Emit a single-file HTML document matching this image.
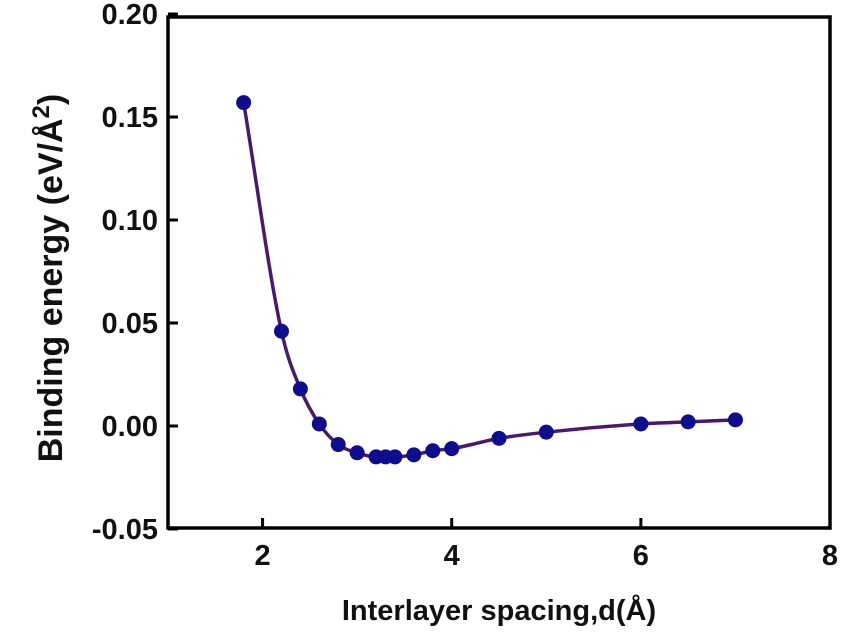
<!DOCTYPE html>
<html><head><meta charset="utf-8"><style>
body{margin:0;background:#fff;}
svg text{font-family:"Liberation Sans",Arial,sans-serif;font-weight:bold;fill:#111;}
</style></head><body>
<svg id="c" width="848" height="638" xmlns="http://www.w3.org/2000/svg"></svg>
<script>
const xValues=[1.8,2.2,2.4,2.6,2.8,3.0,3.2,3.3,3.4,3.6,3.8,4.0,4.5,5.0,6.0,6.5,7.0];
const yValues=[0.157,0.046,0.018,0.001,-0.009,-0.013,-0.015,-0.015,-0.015,-0.014,-0.012,-0.011,-0.006,-0.003,0.001,0.002,0.003];
const xTicks=[2,4,6,8];
const yTicks=[0.20,0.15,0.10,0.05,0.00,-0.05];
const yTickLabels=["0.20","0.15","0.10","0.05","0.00","-0.05"];
const svg=document.getElementById('c');
const NS='http://www.w3.org/2000/svg';
const X=v=>168+(v-1)*(830-168)/7;
const Y=v=>426-v*2060;
function mk(t,a,p){const e=document.createElementNS(NS,t);for(const k in a)e.setAttribute(k,a[k]);(p||svg).appendChild(e);return e;}
const box=mk('rect',{x:168,y:17,width:662,height:511,fill:'none',stroke:'#000','stroke-width':3.5});


xTicks.forEach(t=>{
 const l=mk('line',{x1:X(t),x2:X(t),y1:528,y2:518,stroke:'#000','stroke-width':3});
 
 
 const tx=mk('text',{x:X(t),y:565,'text-anchor':'middle','font-size':29});tx.textContent=t;
 
 
});
yTicks.forEach((t,i)=>{
 const l=mk('line',{x1:168,x2:178,y1:Y(t),y2:Y(t),stroke:'#000','stroke-width':3});
 
 
 const tx=mk('text',{x:158,y:Y(t)+10,'text-anchor':'end','font-size':29});tx.textContent=yTickLabels[i];
 
 
});
// monotone cubic interpolation (Fritsch-Carlson) in data space
const n=xValues.length;
const dl=[],m=[];
for(let i=0;i<n-1;i++)dl.push((yValues[i+1]-yValues[i])/(xValues[i+1]-xValues[i]));
m[0]=dl[0];m[n-1]=dl[n-2];
for(let i=1;i<n-1;i++){m[i]=(dl[i-1]*dl[i]<=0)?0:(dl[i-1]+dl[i])/2;}
for(let i=0;i<n-1;i++){
 if(dl[i]===0){m[i]=0;m[i+1]=0;continue;}
 const a=m[i]/dl[i],b=m[i+1]/dl[i],s=a*a+b*b;
 if(s>9){const t=3/Math.sqrt(s);m[i]=t*a*dl[i];m[i+1]=t*b*dl[i];}
}
let d='M'+X(xValues[0])+','+Y(yValues[0]);
for(let i=0;i<n-1;i++){
 const h=xValues[i+1]-xValues[i];
 const c1x=xValues[i]+h/3,c1y=yValues[i]+m[i]*h/3;
 const c2x=xValues[i+1]-h/3,c2y=yValues[i+1]-m[i+1]*h/3;
 d+=` C${X(c1x)},${Y(c1y)} ${X(c2x)},${Y(c2y)} ${X(xValues[i+1])},${Y(yValues[i+1])}`;
}
const path=mk('path',{d:d,fill:'none',stroke:'#4a1a6a','stroke-width':3.5});


xValues.forEach((x,i)=>{
 const c=mk('circle',{cx:X(x),cy:Y(yValues[i]),r:7.5,fill:'#0e0e8c'});
 
 
});
const xt=mk('text',{x:499,y:620,'text-anchor':'middle','font-size':29});
xt.textContent='Interlayer spacing,d(Å)';


const yt=mk('text',{x:0,y:0,'text-anchor':'middle','font-size':34,transform:'translate(62,278) rotate(-90)'});
yt.innerHTML='Binding energy (eV/Å<tspan dy="-13" font-size="24">2</tspan><tspan dy="13">)</tspan>';


</script>
</body></html>
